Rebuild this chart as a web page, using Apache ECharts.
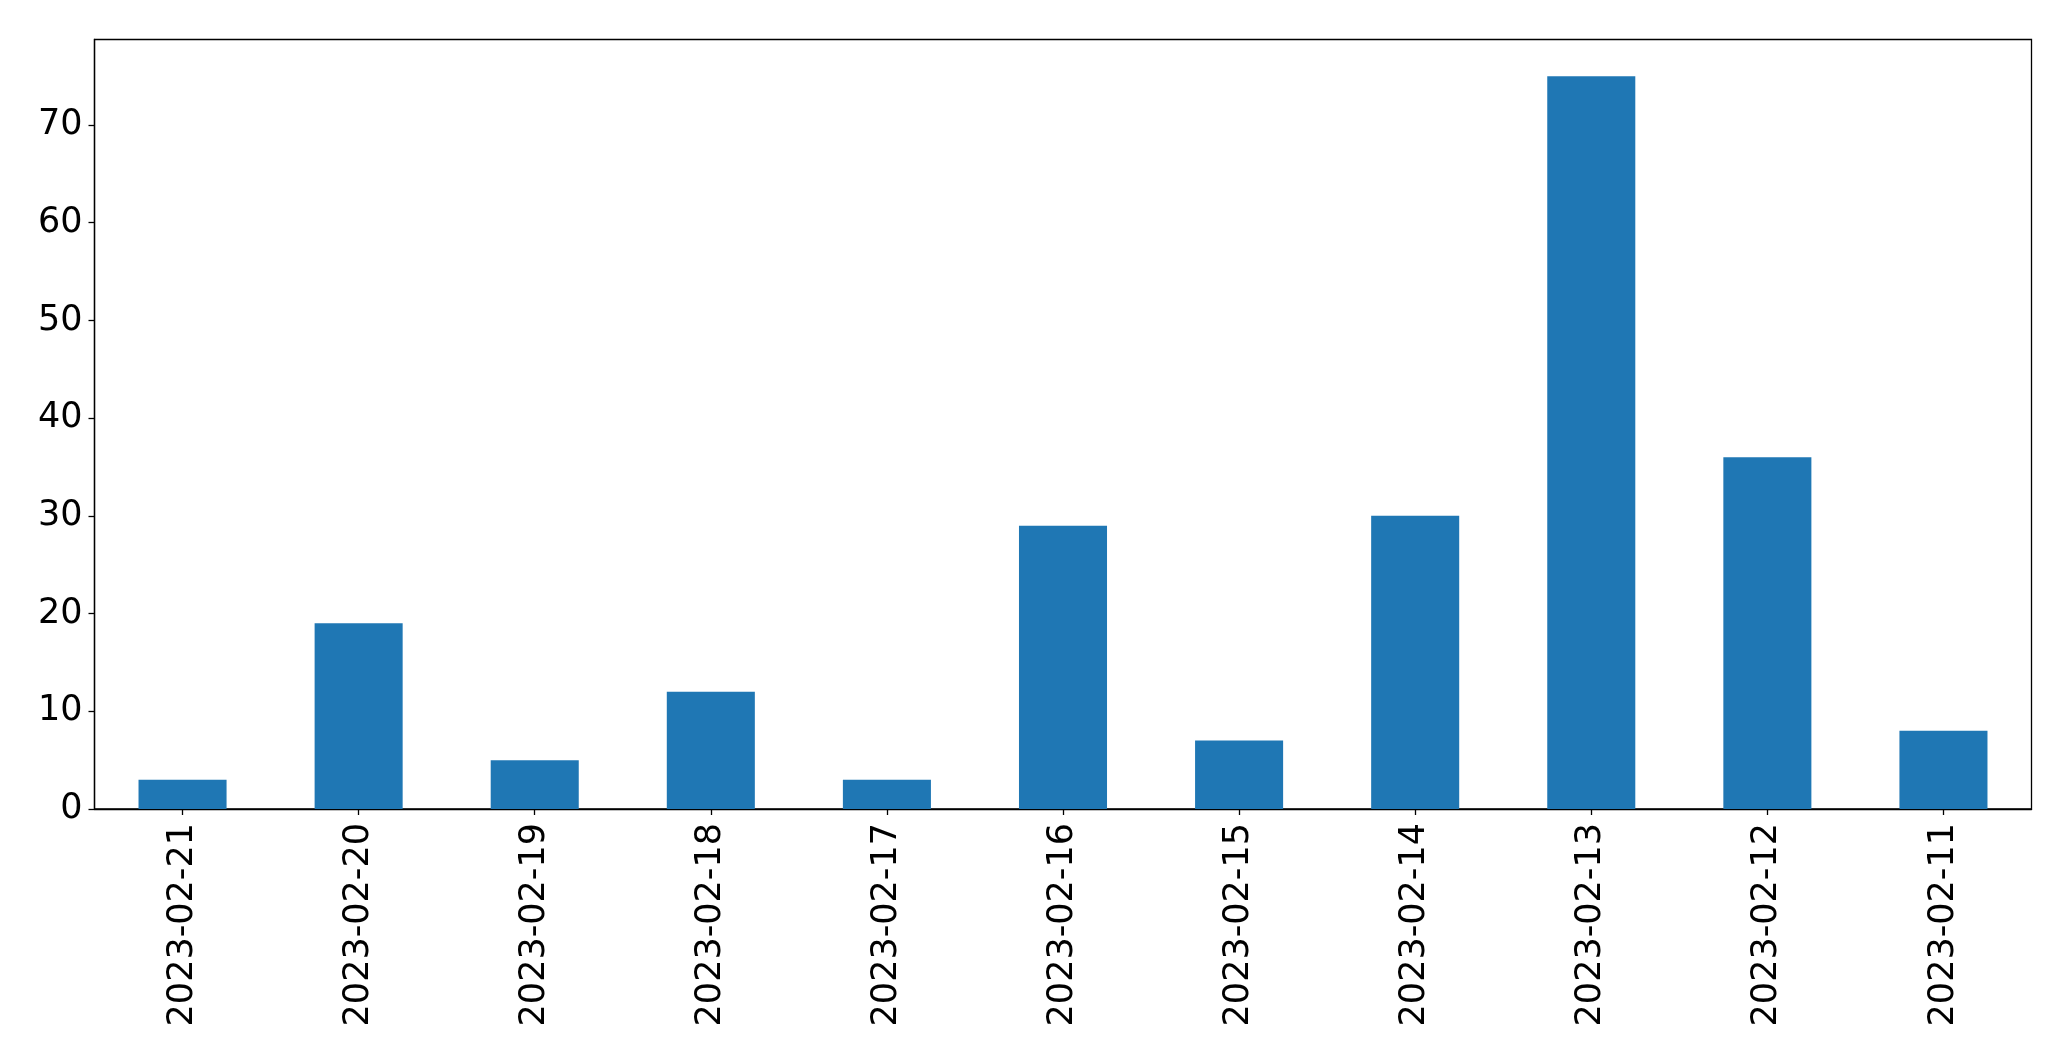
<!DOCTYPE html>
<html>
<head>
<meta charset="utf-8">
<script src="https://cdn.jsdelivr.net/npm/echarts@6/dist/echarts.min.js"></script>
<style>html,body{margin:0;padding:0;background:#fff;}#c{width:2071px;height:1061px;}</style>
</head>
<body>
<div id="c"></div>
<script>
const categories = ["2023-02-21","2023-02-20","2023-02-19","2023-02-18","2023-02-17","2023-02-16","2023-02-15","2023-02-14","2023-02-13","2023-02-12","2023-02-11"];
const values = [3, 19, 5, 12, 3, 29, 7, 30, 75, 36, 8];
const yMax = 78.75;
const yInterval = 10;

const chart = echarts.init(document.getElementById('c'), null, {renderer: 'canvas'});
const font = "DejaVu Sans";
chart.setOption({
  animation: false,
  backgroundColor: '#ffffff',
  grid: {left: 94.5, right: 39.5, top: 39.5, bottom: 252, show: true, borderColor: '#000', borderWidth: 1.3, backgroundColor: 'transparent'},
  xAxis: {
    type: 'category',
    data: categories,
    boundaryGap: true,
    axisLine: {show: true, lineStyle: {color: '#000', width: 1.3}},
    axisTick: {show: true, alignWithLabel: true, length: 6, lineStyle: {color: '#000', width: 1.3}},
    axisLabel: {rotate: 90, color: '#000', fontSize: 35, fontFamily: font, margin: 14, interval: 0},
    splitLine: {show: false}
  },
  yAxis: {
    type: 'value',
    min: 0, max: yMax, interval: yInterval,
    axisLine: {show: true, lineStyle: {color: '#000', width: 1.3}},
    axisTick: {show: true, length: 6, lineStyle: {color: '#000', width: 1.3}},
    axisLabel: {color: '#000', fontSize: 35, fontFamily: font, margin: 12, showMaxLabel: false},
    splitLine: {show: false}
  },
  series: [{
    type: 'bar',
    data: values,
    barWidth: '50%',
    itemStyle: {color: '#1f77b4'}
  }]
});
</script>
</body>
</html>
